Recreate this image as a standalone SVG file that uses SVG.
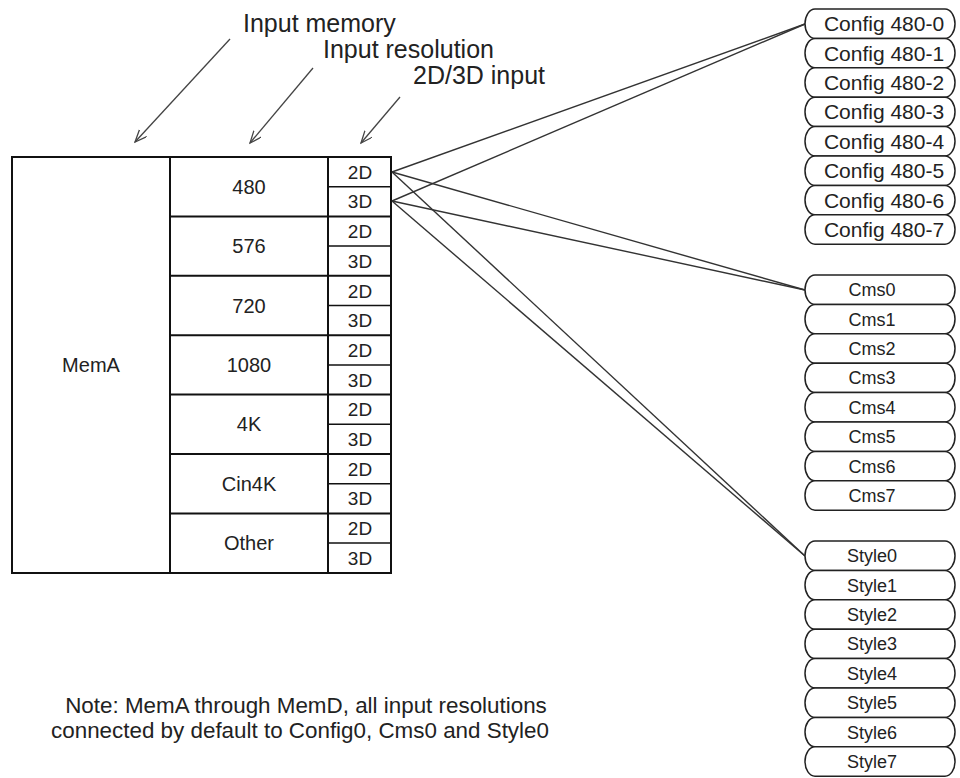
<svg xmlns="http://www.w3.org/2000/svg" width="960" height="778" viewBox="0 0 960 778">
<style>
text{font-family:"Liberation Sans",Arial,sans-serif;fill:#222;}
.lbl{font-size:25px;}
.cell{font-size:20px;text-anchor:middle;}
.sub{font-size:19px;text-anchor:middle;}
.note{font-size:22.4px;text-anchor:middle;}
.pill rect{fill:#fff;stroke:#222;stroke-width:1.5;}
.cfg{font-size:21px;text-anchor:middle;}
.sm{font-size:18px;text-anchor:middle;}
.tb{fill:none;stroke:#111;stroke-width:2;}
.tt{fill:none;stroke:#111;stroke-width:1.5;}
.conn line{stroke:#333;stroke-width:1.4;}
.arr line{stroke:#444;stroke-width:1.3;marker-end:url(#ah);}
</style>
<defs>
<marker id="ah" markerUnits="userSpaceOnUse" markerWidth="14" markerHeight="12" refX="12" refY="5" orient="auto">
<path d="M0,0 L12,5 L0,10" fill="none" stroke="#444" stroke-width="1.3"/>
</marker>
</defs>
<rect width="960" height="778" fill="#fff"/>

<g id="labels">
<text class="lbl" x="243" y="32">Input memory</text>
<text class="lbl" x="323" y="58">Input resolution</text>
<text class="lbl" x="413" y="84">2D/3D input</text>
</g>
<g class="arr" id="label-arrows">
<line x1="230" y1="39" x2="135" y2="142"/>
<line x1="313" y1="68" x2="250" y2="143"/>
<line x1="400" y1="97" x2="361" y2="143"/>
</g>

<g id="table">
<rect class="tb" x="12" y="157" width="379" height="416"/>
<line class="tb" x1="170" y1="157" x2="170" y2="573"/>
<line class="tb" x1="328" y1="157" x2="328" y2="573"/>
<g id="mem"><text class="cell" x="91" y="372">MemA</text></g>
<g class="tb">
<line x1="169" y1="216.4" x2="391" y2="216.4"/>
<line x1="169" y1="275.8" x2="391" y2="275.8"/>
<line x1="169" y1="335.2" x2="391" y2="335.2"/>
<line x1="169" y1="394.6" x2="391" y2="394.6"/>
<line x1="169" y1="454" x2="391" y2="454"/>
<line x1="169" y1="513.4" x2="391" y2="513.4"/>
</g>
<g class="tt">
<line x1="328" y1="186.7" x2="391" y2="186.7"/>
<line x1="328" y1="246.1" x2="391" y2="246.1"/>
<line x1="328" y1="305.5" x2="391" y2="305.5"/>
<line x1="328" y1="364.9" x2="391" y2="364.9"/>
<line x1="328" y1="424.3" x2="391" y2="424.3"/>
<line x1="328" y1="483.7" x2="391" y2="483.7"/>
<line x1="328" y1="543.1" x2="391" y2="543.1"/>
</g>
<g id="res">
<text class="cell" x="249" y="193.7">480</text>
<text class="cell" x="249" y="253.1">576</text>
<text class="cell" x="249" y="312.5">720</text>
<text class="cell" x="249" y="371.9">1080</text>
<text class="cell" x="249" y="431.3">4K</text>
<text class="cell" x="249" y="490.7">Cin4K</text>
<text class="cell" x="249" y="550.1">Other</text>
</g>
<g id="dim">
<text class="sub" x="360" y="178.7">2D</text><text class="sub" x="360" y="208.4">3D</text>
<text class="sub" x="360" y="238.1">2D</text><text class="sub" x="360" y="267.8">3D</text>
<text class="sub" x="360" y="297.5">2D</text><text class="sub" x="360" y="327.2">3D</text>
<text class="sub" x="360" y="356.9">2D</text><text class="sub" x="360" y="386.6">3D</text>
<text class="sub" x="360" y="416.3">2D</text><text class="sub" x="360" y="446">3D</text>
<text class="sub" x="360" y="475.7">2D</text><text class="sub" x="360" y="505.4">3D</text>
<text class="sub" x="360" y="535.1">2D</text><text class="sub" x="360" y="564.8">3D</text>
</g>
</g>

<g class="conn" id="connectors">
<line x1="392" y1="172" x2="805" y2="24"/>
<line x1="392" y1="172" x2="805" y2="290"/>
<line x1="392" y1="172" x2="805" y2="556"/>
<line x1="392" y1="201" x2="805" y2="24"/>
<line x1="392" y1="201" x2="805" y2="290"/>
<line x1="392" y1="201" x2="805" y2="556"/>
</g>

<g id="config">
<g class="pill" id="cfg0"><rect x="805" y="9" width="150" height="29.4" rx="10" ry="14.7"/><text class="cfg" x="884" y="31.2">Config 480-0</text></g>
<g class="pill" id="cfg1"><rect x="805" y="38.4" width="150" height="29.4" rx="10" ry="14.7"/><text class="cfg" x="884" y="60.6">Config 480-1</text></g>
<g class="pill" id="cfg2"><rect x="805" y="67.8" width="150" height="29.4" rx="10" ry="14.7"/><text class="cfg" x="884" y="90">Config 480-2</text></g>
<g class="pill" id="cfg3"><rect x="805" y="97.2" width="150" height="29.4" rx="10" ry="14.7"/><text class="cfg" x="884" y="119.4">Config 480-3</text></g>
<g class="pill" id="cfg4"><rect x="805" y="126.6" width="150" height="29.4" rx="10" ry="14.7"/><text class="cfg" x="884" y="148.8">Config 480-4</text></g>
<g class="pill" id="cfg5"><rect x="805" y="156" width="150" height="29.4" rx="10" ry="14.7"/><text class="cfg" x="884" y="178.2">Config 480-5</text></g>
<g class="pill" id="cfg6"><rect x="805" y="185.4" width="150" height="29.4" rx="10" ry="14.7"/><text class="cfg" x="884" y="207.6">Config 480-6</text></g>
<g class="pill" id="cfg7"><rect x="805" y="214.8" width="150" height="29.4" rx="10" ry="14.7"/><text class="cfg" x="884" y="237">Config 480-7</text></g>
</g>

<g id="cms">
<g class="pill" id="cms0"><rect x="805" y="275" width="150" height="29.4" rx="10" ry="14.7"/><text class="sm" x="872" y="296.2">Cms0</text></g>
<g class="pill" id="cms1"><rect x="805" y="304.4" width="150" height="29.4" rx="10" ry="14.7"/><text class="sm" x="872" y="325.6">Cms1</text></g>
<g class="pill" id="cms2"><rect x="805" y="333.8" width="150" height="29.4" rx="10" ry="14.7"/><text class="sm" x="872" y="355">Cms2</text></g>
<g class="pill" id="cms3"><rect x="805" y="363.2" width="150" height="29.4" rx="10" ry="14.7"/><text class="sm" x="872" y="384.4">Cms3</text></g>
<g class="pill" id="cms4"><rect x="805" y="392.6" width="150" height="29.4" rx="10" ry="14.7"/><text class="sm" x="872" y="413.8">Cms4</text></g>
<g class="pill" id="cms5"><rect x="805" y="422" width="150" height="29.4" rx="10" ry="14.7"/><text class="sm" x="872" y="443.2">Cms5</text></g>
<g class="pill" id="cms6"><rect x="805" y="451.4" width="150" height="29.4" rx="10" ry="14.7"/><text class="sm" x="872" y="472.6">Cms6</text></g>
<g class="pill" id="cms7"><rect x="805" y="480.8" width="150" height="29.4" rx="10" ry="14.7"/><text class="sm" x="872" y="502">Cms7</text></g>
</g>

<g id="style">
<g class="pill" id="sty0"><rect x="805" y="541" width="150" height="29.4" rx="10" ry="14.7"/><text class="sm" x="872" y="562.2">Style0</text></g>
<g class="pill" id="sty1"><rect x="805" y="570.4" width="150" height="29.4" rx="10" ry="14.7"/><text class="sm" x="872" y="591.6">Style1</text></g>
<g class="pill" id="sty2"><rect x="805" y="599.8" width="150" height="29.4" rx="10" ry="14.7"/><text class="sm" x="872" y="621">Style2</text></g>
<g class="pill" id="sty3"><rect x="805" y="629.2" width="150" height="29.4" rx="10" ry="14.7"/><text class="sm" x="872" y="650.4">Style3</text></g>
<g class="pill" id="sty4"><rect x="805" y="658.6" width="150" height="29.4" rx="10" ry="14.7"/><text class="sm" x="872" y="679.8">Style4</text></g>
<g class="pill" id="sty5"><rect x="805" y="688" width="150" height="29.4" rx="10" ry="14.7"/><text class="sm" x="872" y="709.2">Style5</text></g>
<g class="pill" id="sty6"><rect x="805" y="717.4" width="150" height="29.4" rx="10" ry="14.7"/><text class="sm" x="872" y="738.6">Style6</text></g>
<g class="pill" id="sty7"><rect x="805" y="746.8" width="150" height="29.4" rx="10" ry="14.7"/><text class="sm" x="872" y="768">Style7</text></g>
</g>

<g id="note">
<text class="note" x="306" y="713">Note: MemA through MemD, all input resolutions</text>
<text class="note" x="300" y="738">connected by default to Config0, Cms0 and Style0</text>
</g>
</svg>
